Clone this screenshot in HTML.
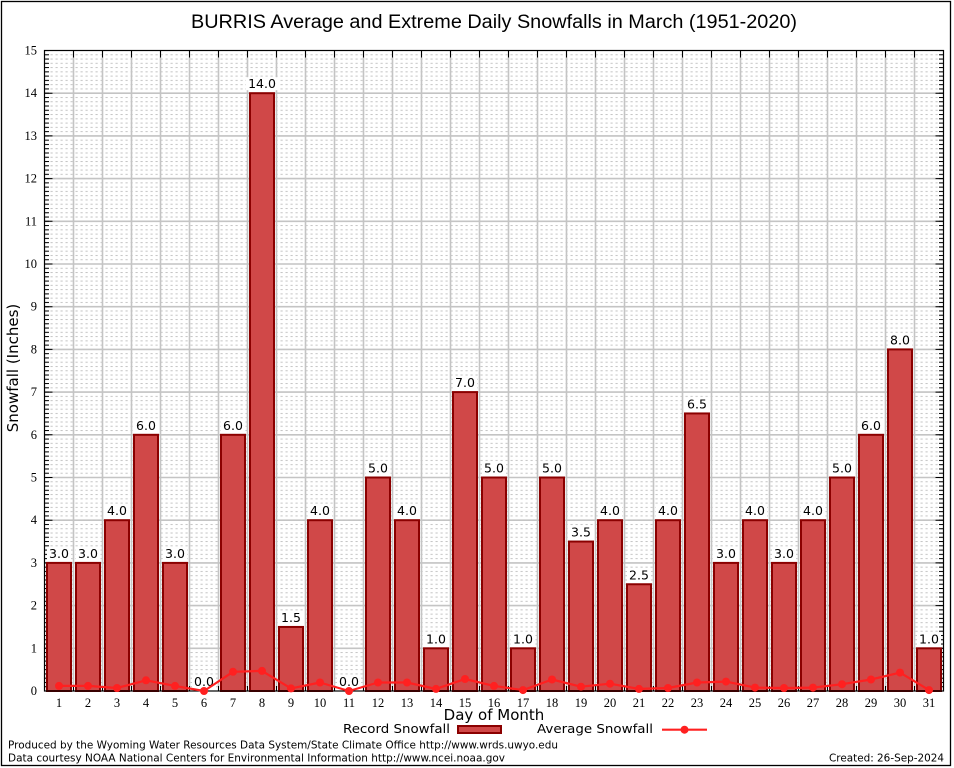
<!DOCTYPE html>
<html><head><meta charset="utf-8"><style>
html,body{margin:0;padding:0;background:#fff;}
svg{display:block;}
</style></head><body>
<svg width="954" height="768" viewBox="0 0 954 768" xmlns="http://www.w3.org/2000/svg">
<defs>
<pattern id="mg" patternUnits="userSpaceOnUse" x="44.5" y="50" width="5" height="4.27">
<rect x="1" y="0" width="2.2" height="1" fill="#c4c4c4"/>
</pattern>
<pattern id="tk" patternUnits="userSpaceOnUse" x="0" y="50" width="10" height="4.27">
<rect x="0" y="0" width="10" height="1" fill="#000"/>
</pattern>
</defs>
<rect x="0" y="0" width="954" height="768" fill="#fff"/>
<rect x="1.5" y="1.5" width="949" height="764" fill="none" stroke="#000" stroke-width="1.3"/>

<!-- minor grid -->
<rect x="44.5" y="50.5" width="899" height="640.5" fill="url(#mg)"/>
<!-- major grid -->
<g stroke="#c4c4c4" stroke-width="1.6">
<path d="M73.5 50.5V691M102.5 50.5V691M131.5 50.5V691M160.5 50.5V691M189.5 50.5V691M218.5 50.5V691M247.5 50.5V691M276.5 50.5V691M305.5 50.5V691M334.5 50.5V691M363.5 50.5V691M392.5 50.5V691M421.5 50.5V691M450.5 50.5V691M479.5 50.5V691M508.5 50.5V691M537.5 50.5V691M566.5 50.5V691M595.5 50.5V691M624.5 50.5V691M653.5 50.5V691M682.5 50.5V691M711.5 50.5V691M740.5 50.5V691M769.5 50.5V691M798.5 50.5V691M827.5 50.5V691M856.5 50.5V691M885.5 50.5V691M914.5 50.5V691"/>
<path d="M44.5 648.3H943.5M44.5 605.6H943.5M44.5 562.9H943.5M44.5 520.2H943.5M44.5 477.5H943.5M44.5 434.8H943.5M44.5 392.1H943.5M44.5 349.4H943.5M44.5 306.7H943.5M44.5 264H943.5M44.5 221.3H943.5M44.5 178.6H943.5M44.5 135.9H943.5M44.5 93.2H943.5"/>
</g>

<!-- ticks -->
<rect x="44.5" y="50.5" width="4.5" height="640.5" fill="url(#tk)"/>
<rect x="939" y="50.5" width="4.5" height="640.5" fill="url(#tk)"/>
<g stroke="#000" stroke-width="1">
<path d="M44.5 648.3h8M44.5 605.6h8M44.5 562.9h8M44.5 520.2h8M44.5 477.5h8M44.5 434.8h8M44.5 392.1h8M44.5 349.4h8M44.5 306.7h8M44.5 264h8M44.5 221.3h8M44.5 178.6h8M44.5 135.9h8M44.5 93.2h8"/>
<path d="M943.5 648.3h-8M943.5 605.6h-8M943.5 562.9h-8M943.5 520.2h-8M943.5 477.5h-8M943.5 434.8h-8M943.5 392.1h-8M943.5 349.4h-8M943.5 306.7h-8M943.5 264h-8M943.5 221.3h-8M943.5 178.6h-8M943.5 135.9h-8M943.5 93.2h-8"/>
<path d="M73.5 50.5v7M102.5 50.5v7M131.5 50.5v7M160.5 50.5v7M189.5 50.5v7M218.5 50.5v7M247.5 50.5v7M276.5 50.5v7M305.5 50.5v7M334.5 50.5v7M363.5 50.5v7M392.5 50.5v7M421.5 50.5v7M450.5 50.5v7M479.5 50.5v7M508.5 50.5v7M537.5 50.5v7M566.5 50.5v7M595.5 50.5v7M624.5 50.5v7M653.5 50.5v7M682.5 50.5v7M711.5 50.5v7M740.5 50.5v7M769.5 50.5v7M798.5 50.5v7M827.5 50.5v7M856.5 50.5v7M885.5 50.5v7M914.5 50.5v7"/>
<path d="M73.5 691v-5M102.5 691v-5M131.5 691v-5M160.5 691v-5M189.5 691v-5M218.5 691v-5M247.5 691v-5M276.5 691v-5M305.5 691v-5M334.5 691v-5M363.5 691v-5M392.5 691v-5M421.5 691v-5M450.5 691v-5M479.5 691v-5M508.5 691v-5M537.5 691v-5M566.5 691v-5M595.5 691v-5M624.5 691v-5M653.5 691v-5M682.5 691v-5M711.5 691v-5M740.5 691v-5M769.5 691v-5M798.5 691v-5M827.5 691v-5M856.5 691v-5M885.5 691v-5M914.5 691v-5"/>
</g>

<!-- bars -->
<g fill="#d04848" stroke="#8b0000" stroke-width="2">
<rect x="47" y="562.9" width="24" height="128.1"/>
<rect x="76" y="562.9" width="24" height="128.1"/>
<rect x="105" y="520.2" width="24" height="170.8"/>
<rect x="134" y="434.8" width="24" height="256.2"/>
<rect x="163" y="562.9" width="24" height="128.1"/>
<rect x="221" y="434.8" width="24" height="256.2"/>
<rect x="250" y="93.2" width="24" height="597.8"/>
<rect x="279" y="626.95" width="24" height="64.05"/>
<rect x="308" y="520.2" width="24" height="170.8"/>
<rect x="366" y="477.5" width="24" height="213.5"/>
<rect x="395" y="520.2" width="24" height="170.8"/>
<rect x="424" y="648.3" width="24" height="42.7"/>
<rect x="453" y="392.1" width="24" height="298.9"/>
<rect x="482" y="477.5" width="24" height="213.5"/>
<rect x="511" y="648.3" width="24" height="42.7"/>
<rect x="540" y="477.5" width="24" height="213.5"/>
<rect x="569" y="541.55" width="24" height="149.45"/>
<rect x="598" y="520.2" width="24" height="170.8"/>
<rect x="627" y="584.25" width="24" height="106.75"/>
<rect x="656" y="520.2" width="24" height="170.8"/>
<rect x="685" y="413.45" width="24" height="277.55"/>
<rect x="714" y="562.9" width="24" height="128.1"/>
<rect x="743" y="520.2" width="24" height="170.8"/>
<rect x="772" y="562.9" width="24" height="128.1"/>
<rect x="801" y="520.2" width="24" height="170.8"/>
<rect x="830" y="477.5" width="24" height="213.5"/>
<rect x="859" y="434.8" width="24" height="256.2"/>
<rect x="888" y="349.4" width="24" height="341.6"/>
<rect x="917" y="648.3" width="24" height="42.7"/>
</g>

<!-- value label backgrounds -->
<g fill="#fff">
<rect x="47" y="546.9" width="24" height="13"/>
<rect x="76" y="546.9" width="24" height="13"/>
<rect x="105" y="504.2" width="24" height="13"/>
<rect x="134" y="418.8" width="24" height="13"/>
<rect x="163" y="546.9" width="24" height="13"/>
<rect x="192" y="675" width="24" height="13"/>
<rect x="221" y="418.8" width="24" height="13"/>
<rect x="246" y="77.2" width="32" height="13"/>
<rect x="279" y="610.95" width="24" height="13"/>
<rect x="308" y="504.2" width="24" height="13"/>
<rect x="337" y="675" width="24" height="13"/>
<rect x="366" y="461.5" width="24" height="13"/>
<rect x="395" y="504.2" width="24" height="13"/>
<rect x="424" y="632.3" width="24" height="13"/>
<rect x="453" y="376.1" width="24" height="13"/>
<rect x="482" y="461.5" width="24" height="13"/>
<rect x="511" y="632.3" width="24" height="13"/>
<rect x="540" y="461.5" width="24" height="13"/>
<rect x="569" y="525.55" width="24" height="13"/>
<rect x="598" y="504.2" width="24" height="13"/>
<rect x="627" y="568.25" width="24" height="13"/>
<rect x="656" y="504.2" width="24" height="13"/>
<rect x="685" y="397.45" width="24" height="13"/>
<rect x="714" y="546.9" width="24" height="13"/>
<rect x="743" y="504.2" width="24" height="13"/>
<rect x="772" y="546.9" width="24" height="13"/>
<rect x="801" y="504.2" width="24" height="13"/>
<rect x="830" y="461.5" width="24" height="13"/>
<rect x="859" y="418.8" width="24" height="13"/>
<rect x="888" y="333.4" width="24" height="13"/>
<rect x="917" y="632.3" width="24" height="13"/>
</g>
<g font-family="'DejaVu Sans', 'Liberation Sans', sans-serif" font-size="12.5" fill="#000" text-anchor="middle">
<text x="59" y="557.9">3.0</text>
<text x="88" y="557.9">3.0</text>
<text x="117" y="515.2">4.0</text>
<text x="146" y="429.8">6.0</text>
<text x="175" y="557.9">3.0</text>
<text x="204" y="686">0.0</text>
<text x="233" y="429.8">6.0</text>
<text x="262" y="88.2">14.0</text>
<text x="291" y="621.95">1.5</text>
<text x="320" y="515.2">4.0</text>
<text x="349" y="686">0.0</text>
<text x="378" y="472.5">5.0</text>
<text x="407" y="515.2">4.0</text>
<text x="436" y="643.3">1.0</text>
<text x="465" y="387.1">7.0</text>
<text x="494" y="472.5">5.0</text>
<text x="523" y="643.3">1.0</text>
<text x="552" y="472.5">5.0</text>
<text x="581" y="536.55">3.5</text>
<text x="610" y="515.2">4.0</text>
<text x="639" y="579.25">2.5</text>
<text x="668" y="515.2">4.0</text>
<text x="697" y="408.45">6.5</text>
<text x="726" y="557.9">3.0</text>
<text x="755" y="515.2">4.0</text>
<text x="784" y="557.9">3.0</text>
<text x="813" y="515.2">4.0</text>
<text x="842" y="472.5">5.0</text>
<text x="871" y="429.8">6.0</text>
<text x="900" y="344.4">8.0</text>
<text x="929" y="643.3">1.0</text>
</g>

<!-- frame -->
<rect x="44.5" y="50.5" width="899" height="640.5" fill="none" stroke="#000" stroke-width="1.2"/>

<!-- average line -->
<g fill="none" stroke="#ff2020" stroke-width="2.2" stroke-linejoin="round">
<polyline points="59,685.9 88,685.9 117,688 146,680.3 175,685.9 204,691 233,671.8 262,670.9 291,688.4 320,682.5 349,691 378,682.5 407,682.5 436,688.9 465,679 494,685.9 523,690.1 552,679.5 581,686.7 610,683.7 639,688.9 668,688 697,682.5 726,681.6 755,687.6 784,688 813,687.6 842,684.2 871,679.5 900,672.6 929,690.1"/>
</g>
<g fill="#ff2020">
<circle cx="59" cy="685.9" r="4"/><circle cx="88" cy="685.9" r="4"/><circle cx="117" cy="688" r="4"/><circle cx="146" cy="680.3" r="4"/><circle cx="175" cy="685.9" r="4"/><circle cx="204" cy="691" r="4"/><circle cx="233" cy="671.8" r="4"/><circle cx="262" cy="670.9" r="4"/><circle cx="291" cy="688.4" r="4"/><circle cx="320" cy="682.5" r="4"/><circle cx="349" cy="691" r="4"/><circle cx="378" cy="682.5" r="4"/><circle cx="407" cy="682.5" r="4"/><circle cx="436" cy="688.9" r="4"/><circle cx="465" cy="679" r="4"/><circle cx="494" cy="685.9" r="4"/><circle cx="523" cy="690.1" r="4"/><circle cx="552" cy="679.5" r="4"/><circle cx="581" cy="686.7" r="4"/><circle cx="610" cy="683.7" r="4"/><circle cx="639" cy="688.9" r="4"/><circle cx="668" cy="688" r="4"/><circle cx="697" cy="682.5" r="4"/><circle cx="726" cy="681.6" r="4"/><circle cx="755" cy="687.6" r="4"/><circle cx="784" cy="688" r="4"/><circle cx="813" cy="687.6" r="4"/><circle cx="842" cy="684.2" r="4"/><circle cx="871" cy="679.5" r="4"/><circle cx="900" cy="672.6" r="4"/><circle cx="929" cy="690.1" r="4"/>
</g>

<!-- y tick labels -->
<g font-family="'Liberation Serif', serif" font-size="12.5" fill="#000" text-anchor="end">
<text x="37" y="695">0</text>
<text x="37" y="652.3">1</text>
<text x="37" y="609.6">2</text>
<text x="37" y="566.9">3</text>
<text x="37" y="524.2">4</text>
<text x="37" y="481.5">5</text>
<text x="37" y="438.8">6</text>
<text x="37" y="396.1">7</text>
<text x="37" y="353.4">8</text>
<text x="37" y="310.7">9</text>
<text x="37" y="268">10</text>
<text x="37" y="225.3">11</text>
<text x="37" y="182.6">12</text>
<text x="37" y="139.9">13</text>
<text x="37" y="97.2">14</text>
<text x="37" y="54.5">15</text>
</g>
<!-- x tick labels -->
<g font-family="'Liberation Serif', serif" font-size="12.5" fill="#000" text-anchor="middle">
<text x="59" y="707">1</text><text x="88" y="707">2</text><text x="117" y="707">3</text><text x="146" y="707">4</text><text x="175" y="707">5</text><text x="204" y="707">6</text><text x="233" y="707">7</text><text x="262" y="707">8</text><text x="291" y="707">9</text><text x="320" y="707">10</text><text x="349" y="707">11</text><text x="378" y="707">12</text><text x="407" y="707">13</text><text x="436" y="707">14</text><text x="465" y="707">15</text><text x="494" y="707">16</text><text x="523" y="707">17</text><text x="552" y="707">18</text><text x="581" y="707">19</text><text x="610" y="707">20</text><text x="639" y="707">21</text><text x="668" y="707">22</text><text x="697" y="707">23</text><text x="726" y="707">24</text><text x="755" y="707">25</text><text x="784" y="707">26</text><text x="813" y="707">27</text><text x="842" y="707">28</text><text x="871" y="707">29</text><text x="900" y="707">30</text><text x="929" y="707">31</text>
</g>

<!-- title -->
<text x="494" y="28" font-family="'Liberation Sans', sans-serif" font-size="19" text-anchor="middle" textLength="606" lengthAdjust="spacingAndGlyphs" fill="#000">BURRIS Average and Extreme Daily Snowfalls in March (1951-2020)</text>

<!-- axis labels -->
<text transform="translate(18,368) rotate(-90)" font-family="'DejaVu Sans', sans-serif" font-size="15" text-anchor="middle" fill="#000">Snowfall (Inches)</text>
<text x="494" y="720" font-family="'DejaVu Sans', sans-serif" font-size="15" text-anchor="middle" fill="#000">Day of Month</text>

<!-- legend -->
<g font-family="'DejaVu Sans', sans-serif" font-size="12.5" fill="#000">
<text x="343" y="733" textLength="107" lengthAdjust="spacingAndGlyphs">Record Snowfall</text>
<text x="537" y="733" textLength="116" lengthAdjust="spacingAndGlyphs">Average Snowfall</text>
</g>
<rect x="458" y="726" width="43" height="7" fill="#d04848" stroke="#8b0000" stroke-width="2"/>
<line x1="662" y1="729.7" x2="707" y2="729.7" stroke="#ff2020" stroke-width="2.2"/>
<circle cx="684.5" cy="729.7" r="4" fill="#ff2020"/>

<!-- footer -->
<g font-family="'DejaVu Sans', sans-serif" font-size="10.5" fill="#000">
<text x="8" y="748.3" textLength="550" lengthAdjust="spacingAndGlyphs">Produced by the Wyoming Water Resources Data System/State Climate Office http://www.wrds.uwyo.edu</text>
<text x="8" y="761.7" textLength="497" lengthAdjust="spacingAndGlyphs">Data courtesy NOAA National Centers for Environmental Information http://www.ncei.noaa.gov</text>
<text x="944" y="761.7" text-anchor="end" textLength="115" lengthAdjust="spacingAndGlyphs">Created: 26-Sep-2024</text>
</g>
</svg>
</body></html>
